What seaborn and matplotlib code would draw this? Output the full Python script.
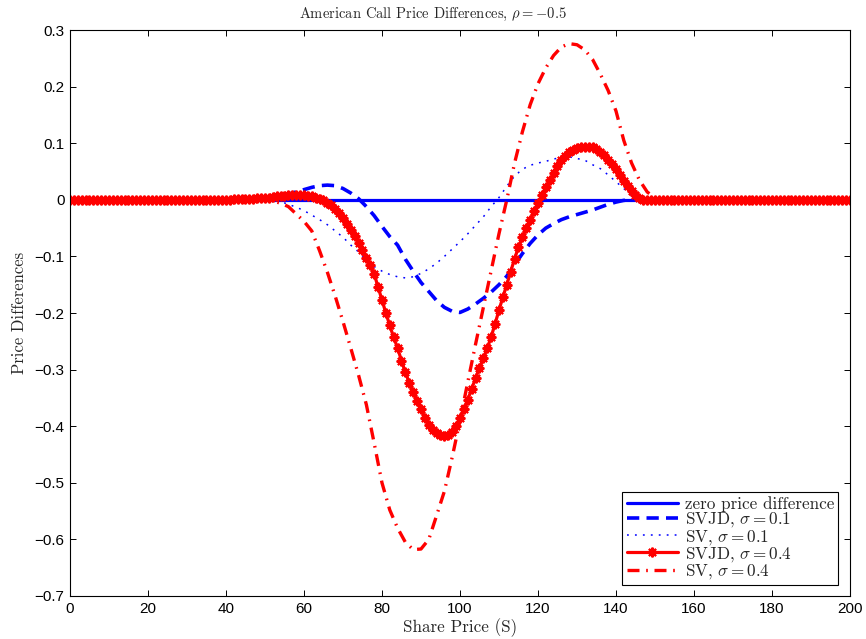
import numpy as np
import pandas as pd
import matplotlib
matplotlib.use("Agg")
import matplotlib.pyplot as plt
import seaborn as sns

# Share-price grids: every unit for the marked series, every two units for the rest
price_fine = np.arange(0, 201, 1)
price_coarse = np.arange(0, 201, 2)

# SVJD, sigma = 0.4 : values for S = 40 .. 150 (step 1); zero elsewhere
svjd_04_core = [
    0.000, 0.000, 0.001, 0.001, 0.001, 0.002, 0.002, 0.002, 0.003, 0.003,
    0.004, 0.004, 0.005, 0.006, 0.006, 0.007, 0.008, 0.008, 0.008, 0.008,
    0.008, 0.007, 0.006, 0.004, 0.002, -0.001, -0.005, -0.010, -0.016, -0.023,
    -0.032, -0.042, -0.053, -0.064, -0.076, -0.089, -0.102, -0.116, -0.131, -0.154,
    -0.177, -0.200, -0.222, -0.243, -0.262, -0.284, -0.305, -0.323, -0.340, -0.355,
    -0.370, -0.385, -0.398, -0.406, -0.412, -0.416, -0.418, -0.416, -0.410, -0.399,
    -0.385, -0.370, -0.353, -0.334, -0.315, -0.297, -0.280, -0.262, -0.242, -0.219,
    -0.195, -0.172, -0.150, -0.127, -0.104, -0.084, -0.066, -0.050, -0.035, -0.020,
    -0.006, 0.008, 0.022, 0.035, 0.047, 0.059, 0.070, 0.078, 0.084, 0.088,
    0.091, 0.093, 0.094, 0.094, 0.093, 0.090, 0.085, 0.079, 0.071, 0.063,
    0.054, 0.044, 0.034, 0.024, 0.015, 0.008, 0.003, 0.000, 0.000, 0.000,
    0.000,
]

# SV, sigma = 0.4 : values for S = 40 .. 150 (step 2)
sv_04_core = [
    0.000, 0.000, 0.000, 0.000, 0.000, 0.000, -0.002, -0.006, -0.012, -0.025,
    -0.038, -0.055, -0.090, -0.128, -0.170, -0.215, -0.262, -0.310, -0.362, -0.430,
    -0.500, -0.548, -0.580, -0.605, -0.618, -0.617, -0.600, -0.558, -0.515, -0.455,
    -0.390, -0.322, -0.255, -0.190, -0.125, -0.060, 0.000, 0.065, 0.120, 0.168,
    0.205, 0.233, 0.255, 0.270, 0.276, 0.274, 0.265, 0.248, 0.222, 0.193,
    0.157, 0.105, 0.065, 0.035, 0.014, 0.003,
]

# SVJD, sigma = 0.1 : values for S = 40 .. 150 (step 2)
svjd_01_core = [
    0.000, 0.000, 0.000, 0.000, 0.001, 0.002, 0.004, 0.007, 0.010, 0.014,
    0.018, 0.022, 0.025, 0.026, 0.025, 0.020, 0.012, 0.002, -0.012, -0.028,
    -0.047, -0.065, -0.080, -0.105, -0.126, -0.146, -0.162, -0.178, -0.190, -0.197,
    -0.199, -0.193, -0.184, -0.174, -0.163, -0.150, -0.135, -0.115, -0.095, -0.077,
    -0.062, -0.050, -0.042, -0.035, -0.030, -0.026, -0.022, -0.018, -0.013, -0.008,
    -0.004, -0.001, 0.000, 0.000, 0.000, 0.000,
]

# SV, sigma = 0.1 : values for S = 40 .. 150 (step 2)
sv_01_core = [
    0.000, 0.000, 0.000, 0.000, 0.000, 0.000, -0.001, -0.003, -0.008, -0.013,
    -0.019, -0.027, -0.035, -0.044, -0.055, -0.066, -0.080, -0.092, -0.106, -0.118,
    -0.126, -0.132, -0.136, -0.138, -0.136, -0.130, -0.122, -0.112, -0.100, -0.087,
    -0.074, -0.060, -0.045, -0.030, -0.012, 0.004, 0.024, 0.042, 0.054, 0.061,
    0.065, 0.068, 0.072, 0.075, 0.076, 0.073, 0.070, 0.062, 0.055, 0.044,
    0.032, 0.020, 0.007, 0.001, 0.000, 0.000,
]

# Pad the cores with the flat zero stretches on either side
svjd_04 = [0.0] * 40 + svjd_04_core + [0.0] * 50
sv_04 = [0.0] * 20 + sv_04_core + [0.0] * 25
svjd_01 = [0.0] * 20 + svjd_01_core + [0.0] * 25
sv_01 = [0.0] * 20 + sv_01_core + [0.0] * 25
zero_line = [0.0] * len(price_coarse)

y_ticks = [-0.7, -0.6, -0.5, -0.4, -0.3, -0.2, -0.1, 0.0, 0.1, 0.2, 0.3]
y_tick_labels = ["\u22120.7", "\u22120.6", "\u22120.5", "\u22120.4", "\u22120.3",
                 "\u22120.2", "\u22120.1", "0", "0.1", "0.2", "0.3"]

labels = [
    "zero price difference",
    r"SVJD, $\sigma = 0.1$",
    r"SV, $\sigma = 0.1$",
    r"SVJD, $\sigma = 0.4$",
    r"SV, $\sigma = 0.4$",
]

sns.set_style("ticks")
plt.rcParams["mathtext.fontset"] = "cm"
plt.rcParams["axes.unicode_minus"] = True

fig = plt.figure(figsize=(8.66, 6.39), dpi=100)
ax = fig.add_axes([0.0808, 0.0673, 0.9007, 0.8857])

coarse = pd.DataFrame({"S": price_coarse, "zero": zero_line, "svjd01": svjd_01,
                       "sv01": sv_01, "sv04": sv_04})
fine = pd.DataFrame({"S": price_fine, "svjd04": svjd_04})

sns.lineplot(data=coarse, x="S", y="zero", ax=ax, color="#0000ff", lw=2.3,
             label=labels[0], estimator=None)
sns.lineplot(data=coarse, x="S", y="svjd01", ax=ax, color="#0000ff", lw=2.6,
             dashes=False, linestyle=(0, (3.4, 2.0)), label=labels[1], estimator=None)
sns.lineplot(data=coarse, x="S", y="sv01", ax=ax, color="#0000ff", lw=1.1,
             dashes=False, linestyle=(0, (1.2, 4.0)), label=labels[2], estimator=None)
sns.lineplot(data=fine, x="S", y="svjd04", ax=ax, color="#ff0000", lw=2.3,
             label=labels[3], estimator=None)
sns.lineplot(data=coarse, x="S", y="sv04", ax=ax, color="#ff0000", lw=2.4,
             dashes=False, linestyle=(0, (3.6, 2.0, 0.5, 2.0)), label=labels[4],
             estimator=None)

# asterisk markers on every point of the SVJD sigma = 0.4 curve
marked = ax.lines[3]
marked.set_marker((8, 2, 0))
marked.set_markersize(7)
marked.set_markeredgewidth(1.5)
marked.set_markeredgecolor("#ff0000")
marked.set_markerfacecolor("#ff0000")

ax.set_xlim(0, 200)
ax.set_ylim(-0.7, 0.3)
ax.set_xticks(np.arange(0, 201, 20))
ax.set_yticks(y_ticks)
ax.set_yticklabels(y_tick_labels)

for side in ["top", "right", "left", "bottom"]:
    ax.spines[side].set_visible(True)
    ax.spines[side].set_linewidth(0.8)
    ax.spines[side].set_color("black")
ax.tick_params(direction="in", top=True, right=True, length=4, width=0.7,
               labelsize=11, colors="black", pad=4)
for lab in ax.get_xticklabels() + ax.get_yticklabels():
    lab.set_fontfamily("Liberation Sans")

ax.set_title(r"American Call Price Differences, $\rho = -0.5$", fontsize=10.5,
             family="cmr10", pad=9, x=0.465)
ax.set_xlabel("Share Price (S)", fontsize=12.3, family="cmr10", labelpad=2)
ax.set_ylabel("Price Differences", fontsize=12, family="cmr10", labelpad=5)

leg = ax.legend(loc="lower right", bbox_to_anchor=(0.985, 0.019), borderaxespad=0,
                frameon=True, fancybox=False, framealpha=1, edgecolor="black",
                handlelength=3.0, handletextpad=0.4, labelspacing=-0.1,
                borderpad=0.25, numpoints=1, prop={"family": "cmr10", "size": 12.3})
leg.get_frame().set_linewidth(0.8)

fig.savefig("out.png", dpi=100)
